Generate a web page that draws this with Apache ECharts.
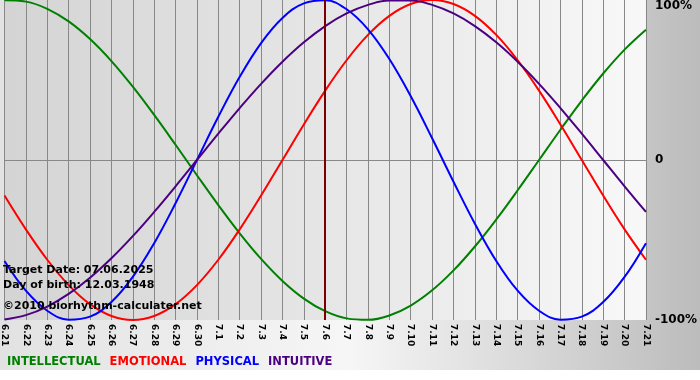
<!DOCTYPE html>
<html><head><meta charset="utf-8">
<script src="https://cdn.jsdelivr.net/npm/echarts@6/dist/echarts.min.js"></script>
<style>html,body{margin:0;padding:0;background:#fff}#c{width:700px;height:380px}</style>
</head><body><div id="c"></div>
<script>
var days = ['6.21','6.22','6.23','6.24','6.25','6.26','6.27','6.28','6.29','6.30','7.1','7.2','7.3','7.4','7.5','7.6','7.7','7.8','7.9','7.10','7.11','7.12','7.13','7.14','7.15','7.16','7.17','7.18','7.19','7.20','7.21'];
var intellectual = [0.9989,0.9898,0.9450,0.8660,0.7557,0.6182,0.4582,0.2817,0.0951,-0.0951,-0.2817,-0.4582,-0.6182,-0.7557,-0.8660,-0.9450,-0.9898,-0.9989,-0.9718,-0.9096,-0.8146,-0.6901,-0.5406,-0.3717,-0.1893,0,0.1893,0.3717,0.5406,0.6901,0.8146];
var emotional = [-0.2225,-0.4339,-0.6235,-0.7818,-0.9010,-0.9749,-1,-0.9749,-0.9010,-0.7818,-0.6235,-0.4339,-0.2225,0,0.2225,0.4339,0.6235,0.7818,0.9010,0.9749,1,0.9749,0.9010,0.7818,0.6235,0.4339,0.2225,0,-0.2225,-0.4339,-0.6235];
var physical = [-0.631,-0.817,-0.942,-0.998,-0.979,-0.888,-0.731,-0.520,-0.270,0,0.270,0.520,0.731,0.888,0.979,0.998,0.942,0.817,0.631,0.398,0.136,-0.136,-0.398,-0.631,-0.817,-0.942,-0.998,-0.979,-0.888,-0.731,-0.520];
var intuitive = [-0.9966,-0.9694,-0.9158,-0.8372,-0.7357,-0.6142,-0.4759,-0.3247,-0.1646,0,0.1646,0.3247,0.4759,0.6142,0.7357,0.8372,0.9158,0.9694,0.9966,0.9966,0.9694,0.9158,0.8372,0.7357,0.6142,0.4759,0.3247,0.1646,0,-0.1646,-0.3247];
var targetDay = '7.6';
var yTicks = {'1':'100%','0':'0','-1':'-100%'};
var seriesNames = ['INTELLECTUAL','EMOTIONAL','PHYSICAL','INTUITIVE'];
var colors = ['#008000','#ff0000','#0000ff','#4b0082'];
var infoLines = ['Target Date: 07.06.2025','Day of birth: 12.03.1948','©2010 biorhythm-calculater.net'];

var FONT = 'DejaVu Sans';
var chart = echarts.init(document.getElementById('c'));
var values = [intellectual, emotional, physical, intuitive];
var series = seriesNames.map(function(n,i){
  return {name:n,type:'line',data:values[i],smooth:0.4,symbol:'none',
    lineStyle:{color:colors[i],width:2},itemStyle:{color:colors[i]},z:3};
});
series[0].markLine = {silent:true,symbol:'none',label:{show:false},
  lineStyle:{color:'#7a0000',width:2,type:'solid'},data:[{xAxis:targetDay}]};

chart.setOption({
  animation:false,
  backgroundColor:{type:'linear',x:0,y:0,x2:1,y2:0,colorStops:[
    {offset:0,color:'#e2e2e2'},{offset:0.5,color:'#f6f6f6'},{offset:1,color:'#bcbcbc'}]},
  grid:{left:2,right:49,top:0,bottom:60,show:true,borderWidth:0,
    backgroundColor:{type:'linear',x:0,y:0,x2:1,y2:0,colorStops:[
      {offset:0,color:'#d4d4d4'},{offset:1,color:'#f8f8f8'}]}},
  xAxis:{type:'category',data:days,boundaryGap:false,
    axisLine:{show:false},
    axisTick:{show:true,length:3,lineStyle:{color:'#888'}},
    splitLine:{show:true,lineStyle:{color:'#888',width:1}},
    axisLabel:{rotate:-90,interval:0,margin:4,fontFamily:FONT,fontWeight:'bold',fontSize:9,color:'#000'}},
  yAxis:{type:'value',position:'right',min:-1,max:1,interval:1,
    axisLine:{show:false},axisTick:{show:false},
    splitLine:{show:true,lineStyle:{color:['rgba(0,0,0,0)','#888','rgba(0,0,0,0)'],width:1}},
    axisLabel:{margin:9,fontFamily:FONT,fontWeight:'bold',fontSize:12,color:'#000',
      verticalAlignMaxLabel:'top',
      formatter:function(v){return yTicks[String(v)];}}},
  legend:{left:2,top:356,padding:0,itemWidth:0,itemHeight:0,itemGap:4,icon:'rect',
    textStyle:{fontFamily:FONT,fontWeight:'bold',fontSize:11.5},
    data:seriesNames.map(function(n,i){return {name:n,textStyle:{color:colors[i]}};})},
  graphic:[
    {type:'rect',left:0,top:370,shape:{width:700,height:10},style:{fill:'#fff'},z:0},
    {type:'text',left:3,top:265,z:10,style:{text:infoLines[0],font:'bold 11px "DejaVu Sans"',fill:'#000'}},
    {type:'text',left:3,top:280,z:10,style:{text:infoLines[1],font:'bold 11px "DejaVu Sans"',fill:'#000'}},
    {type:'text',left:3,top:301,z:10,style:{text:infoLines[2],font:'bold 11px "DejaVu Sans"',fill:'#000'}}
  ],
  series:series
});
</script></body></html>
